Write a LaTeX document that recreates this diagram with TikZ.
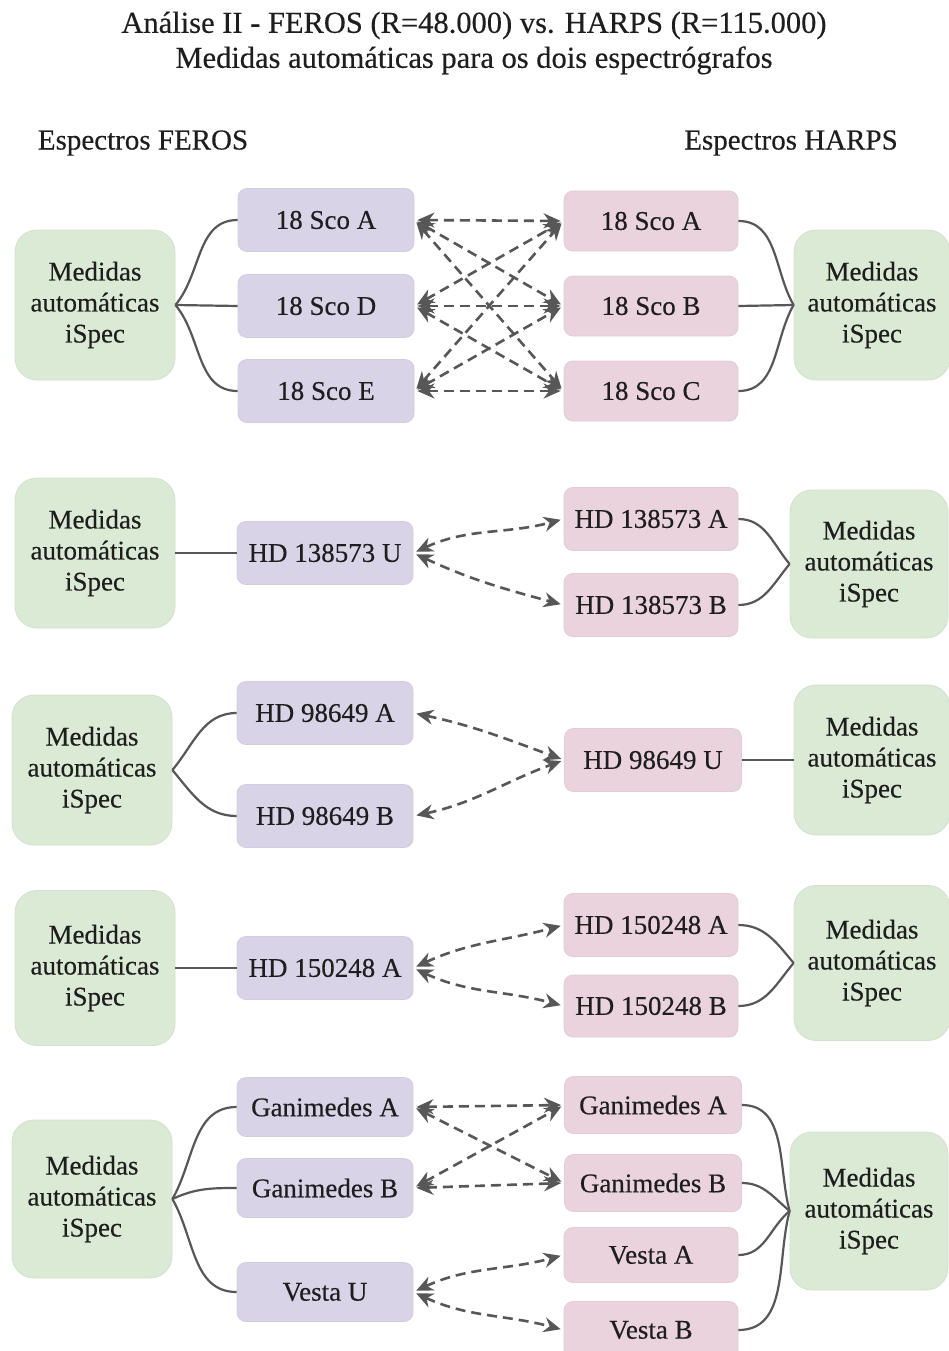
\documentclass[tikz,border=0pt]{standalone}
\usepackage{fontspec}
\setmainfont{Liberation Serif}[FakeBold=0.35]
\usetikzlibrary{arrows.meta}
\definecolor{ink}{HTML}{1E1E1E}
\definecolor{wire}{HTML}{575757}
\definecolor{ferosfill}{HTML}{D9D3E8}
\definecolor{harpsfill}{HTML}{EAD3DD}
\definecolor{ispecfill}{HTML}{DAEAD4}
\begin{document}
\begin{tikzpicture}[x=1pt,y=1pt,
  box/.style={rectangle, rounded corners=9pt, inner sep=0pt, text=ink,
    font=\fontsize{27}{31}\selectfont, align=center},
  feros/.style={box, fill=ferosfill, draw=ferosfill!92!gray, line width=0.8pt,
    minimum width=176, minimum height=63},
  harps/.style={box, fill=harpsfill, draw=harpsfill!92!gray, line width=0.8pt,
    minimum width=174, minimum height=60},
  ispec/.style={box, rounded corners=22pt, fill=ispecfill, draw=ispecfill!92!gray,
    line width=0.8pt, minimum width=160, minimum height=150},
  branch/.style={draw=wire, line width=2.2pt},
  link/.style={draw=wire, line width=2.6pt, dash pattern=on 10pt off 6pt,
    {Stealth[length=17pt,width=15pt]}-{Stealth[length=17pt,width=15pt]},
    shorten <=3pt, shorten >=3pt},
  heading/.style={text=ink, align=center, font=\fontsize{29}{31}\selectfont}
]
\useasboundingbox[fill=white] (0,0) rectangle (948,-1351);

% titles
\node[heading, font=\fontsize{30.5}{35}\selectfont] (title) at (474,-43)
  {Análise II - FEROS (R=48.000) vs. HARPS (R=115.000)\\Medidas automáticas para os dois espectrógrafos};
\node[heading] (colF) at (143,-143) {Espectros FEROS};
\node[heading] (colH) at (791,-143) {Espectros HARPS};

% ---------- 18 Sco ----------
\node[ispec] (g1L) at (95,-305) {Medidas\\automáticas\\iSpec};
\node[feros] (f1a) at (326,-220) {18 Sco A};
\node[feros] (f1d) at (326,-306) {18 Sco D};
\node[feros] (f1e) at (326,-391) {18 Sco E};
\node[harps] (h1a) at (651,-221) {18 Sco A};
\node[harps] (h1b) at (651,-306) {18 Sco B};
\node[harps] (h1c) at (651,-391) {18 Sco C};
\node[ispec, minimum width=156] (g1R) at (872,-305) {Medidas\\automáticas\\iSpec};

\draw[branch] (g1L.east) to[out=50,in=180] (f1a.west);
\draw[branch] (g1L.east) -- (f1d.west);
\draw[branch] (g1L.east) to[out=-50,in=180] (f1e.west);
\draw[branch] (h1a.east) to[out=0,in=120] (g1R.west);
\draw[branch] (h1b.east) -- (g1R.west);
\draw[branch] (h1c.east) to[out=0,in=240] (g1R.west);

\draw[link] (f1a.east) -- (h1a.west);
\draw[link] (f1a.east) -- (h1b.west);
\draw[link] (f1a.east) -- (h1c.west);
\draw[link] (f1d.east) -- (h1a.west);
\draw[link] (f1d.east) -- (h1b.west);
\draw[link] (f1d.east) -- (h1c.west);
\draw[link] (f1e.east) -- (h1a.west);
\draw[link] (f1e.east) -- (h1b.west);
\draw[link] (f1e.east) -- (h1c.west);

% ---------- HD 138573 ----------
\node[ispec] (g2L) at (95,-553) {Medidas\\automáticas\\iSpec};
\node[feros] (f2u) at (325,-553) {HD 138573 U};
\node[harps, minimum height=63] (h2a) at (651,-519) {HD 138573 A};
\node[harps, minimum height=63] (h2b) at (651,-605) {HD 138573 B};
\node[ispec, minimum width=158, minimum height=148] (g2R) at (869,-564) {Medidas\\automáticas\\iSpec};

\draw[branch] (g2L.east) -- (f2u.west);
\draw[branch] (h2a.east) to[out=0,in=130] (g2R.west);
\draw[branch] (h2b.east) to[out=0,in=230] (g2R.west);
\draw[link] (f2u.east) to[out=25,in=195] (h2a.west);
\draw[link] (f2u.east) to[out=-25,in=165] (h2b.west);

% ---------- HD 98649 ----------
\node[ispec] (g3L) at (92,-770) {Medidas\\automáticas\\iSpec};
\node[feros] (f3a) at (325,-713) {HD 98649 A};
\node[feros] (f3b) at (325,-816) {HD 98649 B};
\node[harps, minimum width=177, minimum height=63] (h3u) at (653,-760) {HD 98649 U};
\node[ispec, minimum width=156] (g3R) at (872,-760) {Medidas\\automáticas\\iSpec};

\draw[branch] (g3L.east) to[out=50,in=180] (f3a.west);
\draw[branch] (g3L.east) to[out=-50,in=180] (f3b.west);
\draw[branch] (h3u.east) -- (g3R.west);
\draw[link] (f3a.east) to[out=-12,in=160] (h3u.west);
\draw[link] (f3b.east) to[out=12,in=200] (h3u.west);

% ---------- HD 150248 ----------
\node[ispec, minimum height=155] (g4L) at (95,-968) {Medidas\\automáticas\\iSpec};
\node[feros] (f4a) at (325,-968) {HD 150248 A};
\node[harps, minimum height=63] (h4a) at (651,-925) {HD 150248 A};
\node[harps, minimum height=62] (h4b) at (651,-1006) {HD 150248 B};
\node[ispec, minimum width=156, minimum height=155] (g4R) at (872,-963) {Medidas\\automáticas\\iSpec};

\draw[branch] (g4L.east) -- (f4a.west);
\draw[branch] (h4a.east) to[out=0,in=130] (g4R.west);
\draw[branch] (h4b.east) to[out=0,in=230] (g4R.west);
\draw[link] (f4a.east) to[out=25,in=195] (h4a.west);
\draw[link] (f4a.east) to[out=-25,in=165] (h4b.west);

% ---------- Ganimedes / Vesta ----------
\node[ispec, minimum height=158] (g5L) at (92,-1199) {Medidas\\automáticas\\iSpec};
\node[feros, minimum height=59] (f5a) at (325,-1107) {Ganimedes A};
\node[feros, minimum height=59] (f5b) at (325,-1188) {Ganimedes B};
\node[feros, minimum height=59] (f5v) at (325,-1292) {Vesta U};
\node[harps, minimum width=177, minimum height=57] (h5ga) at (653,-1105) {Ganimedes A};
\node[harps, minimum width=177, minimum height=57] (h5gb) at (653,-1183) {Ganimedes B};
\node[harps, minimum height=55] (h5va) at (651,-1255) {Vesta A};
\node[harps, minimum height=57] (h5vb) at (651,-1330) {Vesta B};
\node[ispec, minimum width=158, minimum height=158] (g5R) at (869,-1211) {Medidas\\automáticas\\iSpec};

\draw[branch] (g5L.east) to[out=60,in=180] (f5a.west);
\draw[branch] (g5L.east) to[out=25,in=180] (f5b.west);
\draw[branch] (g5L.east) to[out=-60,in=180] (f5v.west);
\draw[branch] (h5ga.east) to[out=0,in=105] (g5R.west);
\draw[branch] (h5gb.east) to[out=0,in=140] (g5R.west);
\draw[branch] (h5va.east) to[out=0,in=220] (g5R.west);
\draw[branch] (h5vb.east) to[out=0,in=255] (g5R.west);

\draw[link] (f5a.east) -- (h5ga.west);
\draw[link] (f5a.east) -- (h5gb.west);
\draw[link] (f5b.east) -- (h5ga.west);
\draw[link] (f5b.east) -- (h5gb.west);
\draw[link] (f5v.east) to[out=25,in=195] (h5va.west);
\draw[link] (f5v.east) to[out=-25,in=165] (h5vb.west);
\end{tikzpicture}
\end{document}
